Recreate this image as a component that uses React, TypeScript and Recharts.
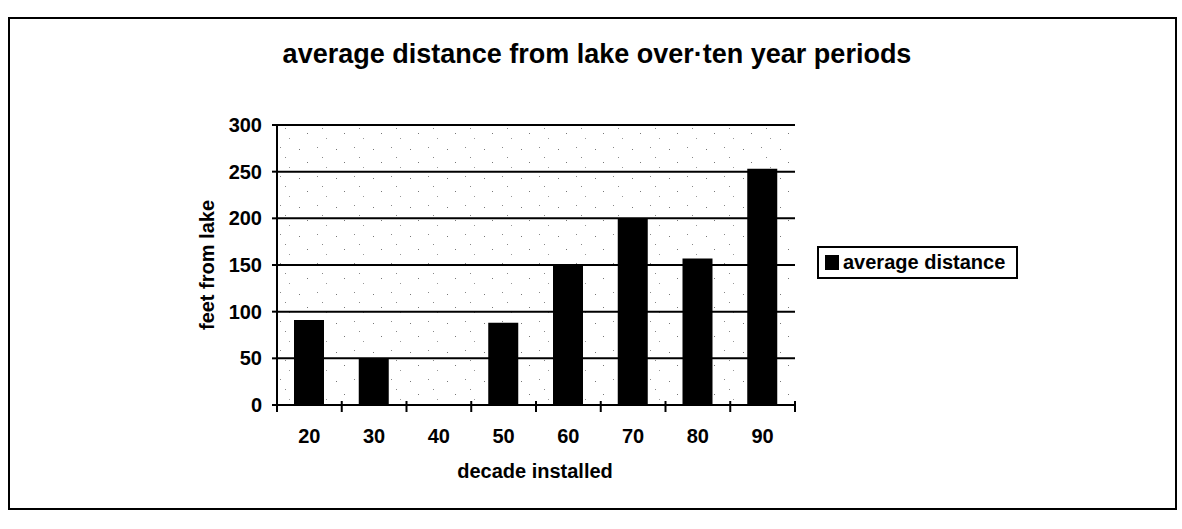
import React from 'react';
import { BarChart, Bar, XAxis, YAxis, CartesianGrid, Legend, ReferenceLine } from 'recharts';

const decades = ['20', '30', '40', '50', '60', '70', '80', '90'];
const averageDistance = [91, 50, 0, 88, 150, 200, 157, 253];
const yTicks = [0, 50, 100, 150, 200, 250, 300];

const chartData = decades.map((decade, i) => ({ decade, value: averageDistance[i] }));

const FONT = '"Liberation Sans", Arial, sans-serif';
const X_TICK_MARGIN = 24;

// Excel-style category axis: tick marks sit on the category boundaries, labels in the middle
const DecadeTick: React.FC<any> = ({ x, y, payload, index, visibleTicksCount }) => {
  const half = payload && typeof payload.offset === 'number' ? payload.offset : 0;
  const axisY = y - X_TICK_MARGIN;
  return (
    <g>
      <line x1={x - half} x2={x - half} y1={axisY - 4} y2={axisY + 7} stroke="#000" strokeWidth={2} />
      {index === visibleTicksCount - 1 && (
        <line x1={x + half} x2={x + half} y1={axisY - 4} y2={axisY + 7} stroke="#000" strokeWidth={2} />
      )}
      <text
        x={x}
        y={y}
        dy="0.71em"
        textAnchor="middle"
        fill="#000"
        style={{ fontSize: 20, fontWeight: 'bold', fontFamily: FONT }}
      >
        {payload.value}
      </text>
    </g>
  );
};

const LegendBox: React.FC<any> = () => (
  <div
    style={{
      boxSizing: 'border-box',
      width: 201,
      height: 33,
      border: '2px solid #000',
      display: 'flex',
      alignItems: 'center',
      paddingLeft: 6,
      fontFamily: FONT,
      fontWeight: 'bold',
      fontSize: 20,
      color: '#000',
      whiteSpace: 'nowrap',
    }}
  >
    <span style={{ display: 'inline-block', width: 14, height: 15, background: '#000', marginRight: 4 }} />
    average distance
  </div>
);

const App: React.FC = () => {
  return (
    <div style={{ position: 'absolute', left: 0, top: 0, width: 1182, height: 529, background: '#fff', fontFamily: FONT }}>
      {/* outer chart frame */}
      <div
        style={{
          position: 'absolute',
          left: 8,
          top: 17,
          width: 1169,
          height: 493,
          border: '2px solid #000',
          boxSizing: 'border-box',
        }}
      />
      <div
        style={{
          position: 'absolute',
          left: 8,
          top: 41,
          width: 1178,
          textAlign: 'center',
          fontWeight: 'bold',
          fontSize: 27,
          lineHeight: '27px',
          color: '#000',
        }}
      >
        average distance from lake over·ten year periods
      </div>
      <div
        style={{
          position: 'absolute',
          left: 335,
          top: 461,
          width: 400,
          textAlign: 'center',
          fontWeight: 'bold',
          fontSize: 20,
          lineHeight: '20px',
          color: '#000',
        }}
      >
        decade installed
      </div>

      <div style={{ position: 'absolute', left: 0, top: 0 }}>
        <BarChart
          width={1182}
          height={529}
          data={chartData}
          margin={{ top: 125, right: 387, left: 217, bottom: 84 }}
        >
          <defs>
            <pattern id="speckle" width="37" height="29" patternUnits="userSpaceOnUse">
              <rect x="3" y="4" width="1" height="1" fill="#777" />
              <rect x="21" y="2" width="1" height="1" fill="#888" />
              <rect x="11" y="17" width="1" height="1" fill="#777" />
              <rect x="30" y="22" width="1" height="1" fill="#999" />
              <rect x="26" y="12" width="1" height="1" fill="#888" />
            </pattern>
          </defs>
          <CartesianGrid
            horizontal
            vertical={false}
            stroke="#000"
            strokeWidth={2}
            fill="url(#speckle)"
          />
          <XAxis
            xAxisId="b"
            type="number"
            domain={[0, 8]}
            allowDataOverflow
            tick={false}
            tickLine={false}
            axisLine={false}
            height={0}
          />
          <XAxis
            dataKey="decade"
            height={40}
            tickLine={false}
            tickSize={0}
            tickMargin={X_TICK_MARGIN}
            axisLine={{ stroke: '#000', strokeWidth: 2 }}
            tick={<DecadeTick />}
            interval={0}
          />
          <YAxis
            domain={[0, 300]}
            ticks={yTicks}
            width={60}
            tickSize={5}
            tickMargin={10}
            axisLine={{ stroke: '#000', strokeWidth: 2 }}
            tickLine={{ stroke: '#000', strokeWidth: 2 }}
            tick={{ fill: '#000', fontSize: 20, fontWeight: 'bold', fontFamily: FONT }}
            label={{
              value: 'feet from lake',
              angle: -90,
              position: 'insideLeft',
              offset: -10,
              fill: '#000',
              style: { textAnchor: 'middle', fontSize: 20, fontWeight: 'bold', fontFamily: FONT },
            }}
          />
          <ReferenceLine xAxisId="b" x={8} stroke="#000" strokeWidth={2} strokeDasharray="1 1" />
          <Legend
            layout="horizontal"
            verticalAlign="middle"
            align="center"
            content={<LegendBox />}
            wrapperStyle={{ position: 'absolute', left: 817, top: 246, width: 201, height: 33 }}
          />
          <Bar dataKey="value" name="average distance" fill="#000" barSize={30} isAnimationActive={false} />
        </BarChart>
      </div>
    </div>
  );
};

export default App;
